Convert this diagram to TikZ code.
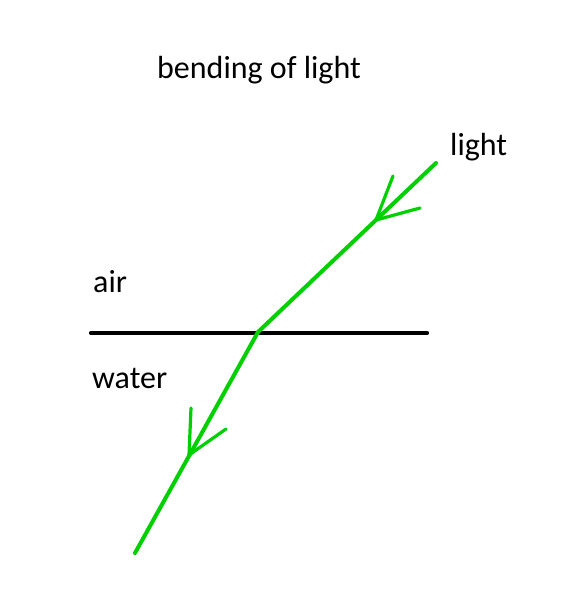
\documentclass[tikz,border=0pt]{standalone}
\usepackage{fontspec}
\setmainfont{Carlito}
\definecolor{raygreen}{RGB}{0,208,0}

\begin{document}
\begin{tikzpicture}[x=1pt,y=-1pt,
    ray/.style={raygreen, line width=4pt, line cap=round, line join=round},
    barb/.style={raygreen, line width=3.2pt, line cap=round},
    surface/.style={black, line width=4.2pt, line cap=round},
    lbl/.style={inner sep=0pt, font=\fontsize{32}{38}\selectfont}]

            \useasboundingbox (0,0) rectangle (560,599);

            \node[lbl, anchor=base] (title) at (259,79) {bending of light};
            \node[lbl, anchor=base west] (light) at (450,155) {light};
            \node[lbl, anchor=base west] (air) at (93,292) {air};
            \node[lbl, anchor=base west] (water) at (92,388) {water};

            \coordinate (left) at (91,333);
            \coordinate (right) at (427,333);
            \draw[surface] (left) -- (right);

            \coordinate (src) at (436,163);
            \coordinate (hit) at (258,332);
            \coordinate (sink) at (135,553);
            \draw[ray] (src) -- (hit) -- (sink);

            % arrow in air
            \coordinate (tipA) at (376,220);
            \foreach \p in {(393,176), (420,208)}
            {
                \draw[barb] (tipA) -- \p;
            }
            % arrow in water
            \coordinate (tipW) at (189,455);
            \foreach \p in {(191,408), (226,429)}
            {
                \draw[barb] (tipW) -- \p;
            }
        \end{tikzpicture}
\end{document}
